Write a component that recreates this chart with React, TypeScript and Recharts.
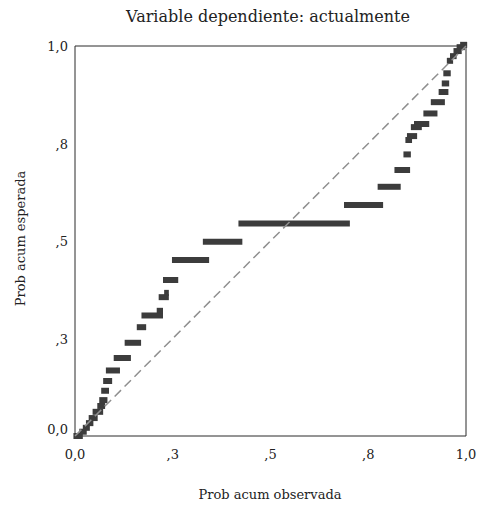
import {
  ComposedChart, Scatter, XAxis, YAxis, ReferenceLine, ReferenceArea,
} from 'recharts';

const TICKS = [0, 0.25, 0.5, 0.75, 1];
const TICK_LABELS = ['0,0', ',3', ',5', ',8', '1,0'];

// one horizontal step of the P-P plot: observed from .. to, expected value
const OBS_FROM = [
  -0.004, 0.011, 0.020, 0.028, 0.035, 0.045, 0.057, 0.062, 0.067, 0.072,
  0.079, 0.099, 0.127, 0.158, 0.170, 0.209, 0.214, 0.228, 0.225, 0.248,
  0.327, 0.418, 0.688, 0.774, 0.817, 0.840, 0.845, 0.849, 0.859, 0.867,
  0.891, 0.910, 0.930, 0.938, 0.942, 0.951, 0.959, 0.968, 0.976, 0.985,
];
const OBS_TO = [
  0.020, 0.030, 0.038, 0.047, 0.058, 0.072, 0.077, 0.083, 0.087, 0.095,
  0.115, 0.143, 0.169, 0.182, 0.225, 0.225, 0.240, 0.240, 0.264, 0.343,
  0.428, 0.703, 0.788, 0.833, 0.857, 0.859, 0.862, 0.875, 0.887, 0.906,
  0.927, 0.946, 0.955, 0.957, 0.961, 0.967, 0.976, 0.989, 0.997, 1.003,
];
const EXPECTED = [
  0.000, 0.011, 0.021, 0.033, 0.046, 0.062, 0.077, 0.092, 0.116, 0.141,
  0.168, 0.200, 0.239, 0.279, 0.309, 0.321, 0.356, 0.367, 0.400, 0.451,
  0.498, 0.545, 0.592, 0.639, 0.682, 0.722, 0.759, 0.769, 0.792, 0.800,
  0.827, 0.856, 0.882, 0.904, 0.930, 0.962, 0.974, 0.987, 0.997, 1.003,
];

const DIAGONAL = [{ x: 0, y: 0 }, { x: 1, y: 1 }];

const FONT = '"DejaVu Serif", serif';
const BAR = '#3c3c3c';

const fmt = (v: number) => TICK_LABELS[TICKS.indexOf(v)] ?? String(v);

function XTick({ x, y, payload }: any) {
  return (
    <text x={x} y={y + 23} textAnchor="middle" fontFamily={FONT} fontSize={13} fill="#222">
      {fmt(payload.value)}
    </text>
  );
}

function YTick({ x, y, payload }: any) {
  const shift = payload.value === 0 ? -7 : 0;
  return (
    <text x={x - 7} y={y + 5 + shift} textAnchor="end" fontFamily={FONT} fontSize={13} fill="#222">
      {fmt(payload.value)}
    </text>
  );
}

export default function App() {
  return (
    <div style={{ position: 'absolute', left: 0, top: 0, width: 478, height: 508, background: '#fff' }}>
      <div style={{
        position: 'absolute', left: 0, top: 7, width: 536, textAlign: 'center',
        fontFamily: FONT, fontSize: 16, color: '#222',
      }}>
        Variable dependiente: actualmente
      </div>
      <div style={{
        position: 'absolute', left: 0, top: 487, width: 540, textAlign: 'center',
        fontFamily: FONT, fontSize: 13, color: '#222',
      }}>
        Prob acum observada
      </div>
      <div style={{
        position: 'absolute', left: 20, top: 240, width: 0, height: 0,
      }}>
        <div style={{
          position: 'absolute', left: -100, top: -9, width: 200, textAlign: 'center',
          transform: 'rotate(-90deg)', fontFamily: FONT, fontSize: 13, color: '#222',
          whiteSpace: 'nowrap',
        }}>
          Prob acum esperada
        </div>
      </div>
      <ComposedChart
        width={478}
        height={508}
        margin={{ top: 46, right: 12, left: 0, bottom: 0 }}
        style={{ position: 'absolute', left: 0, top: 0 }}
      >
        <XAxis
          type="number" dataKey="x" domain={[0, 1]} ticks={TICKS} height={72}
          axisLine={false} tickLine={false} tickSize={0} tickMargin={0}
          tick={<XTick />} allowDataOverflow
        />
        <YAxis
          type="number" dataKey="y" domain={[0, 1]} ticks={TICKS} width={75}
          axisLine={false} tickLine={false} tickSize={0} tickMargin={0}
          tick={<YTick />} allowDataOverflow
        />
        <ReferenceArea x1={0} x2={1} y1={0} y2={1} fill="none" fillOpacity={0} stroke="#2a2a2a" strokeWidth={1} />
        {EXPECTED.map((y, i) => (
          <ReferenceLine
            key={i}
            segment={[{ x: OBS_FROM[i], y }, { x: OBS_TO[i], y }]}
            stroke={BAR}
            strokeWidth={6}
            ifOverflow="visible"
          />
        ))}
        <ReferenceLine
          segment={[DIAGONAL[0], DIAGONAL[1]]}
          stroke="#8f8f8f"
          strokeWidth={1.5}
          strokeDasharray="9 5"
        />
        <Scatter data={DIAGONAL} dataKey="y" fill="none" shape={() => <g />} isAnimationActive={false} />
      </ComposedChart>
    </div>
  );
}
